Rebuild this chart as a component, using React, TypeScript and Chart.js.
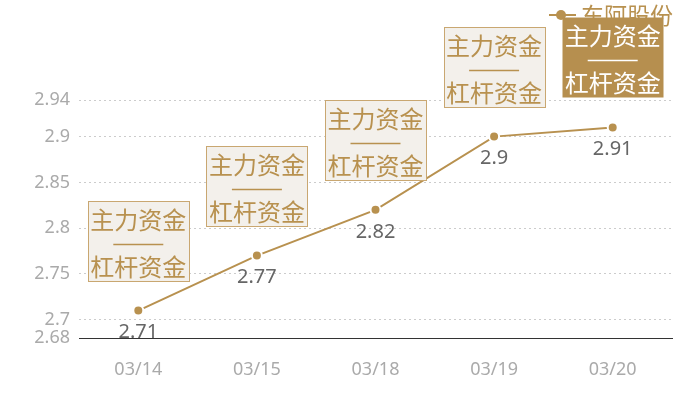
import { useEffect, useRef } from "react"
import { Chart, registerables } from "chart.js"

Chart.register(...registerables)

const seriesName = "东阿股份"
const dates = ["03/14", "03/15", "03/18", "03/19", "03/20"]
const prices = [2.71, 2.77, 2.82, 2.9, 2.91]
const yTicks = [2.68, 2.7, 2.75, 2.8, 2.85, 2.9, 2.94]
const boxTop = "主力资金"
const boxBottom = "杠杆资金"
const activeIndex = 4

const GOLD = "#b8914f"
const CJK = '"Noto Sans CJK SC", "Noto Sans", sans-serif'

const overlayPlugin = {
  id: "overlay",
  afterDatasetsDraw(chart: any) {
    const ctx = chart.ctx
    const meta = chart.getDatasetMeta(0)
    ctx.save()
    ctx.fillStyle = "#666"
    ctx.font = '20px "Noto Sans", sans-serif'
    ctx.textAlign = "center"
    ctx.textBaseline = "middle"
    meta.data.forEach((pt: any, i: number) => {
      ctx.fillText(String(prices[i]), pt.x, pt.y + 22)
    })
    ctx.restore()
  },
  afterDraw(chart: any) {
    const ctx = chart.ctx
    ctx.save()
    // legend
    const ly = 15
    ctx.strokeStyle = GOLD
    ctx.lineWidth = 2
    ctx.beginPath()
    ctx.moveTo(549, ly)
    ctx.lineTo(576, ly)
    ctx.stroke()
    ctx.fillStyle = GOLD
    ctx.beginPath()
    ctx.arc(561, ly, 5, 0, Math.PI * 2)
    ctx.fill()
    ctx.font = "23px " + CJK
    ctx.textAlign = "left"
    ctx.textBaseline = "middle"
    ctx.fillText(seriesName, 581, ly)

    // boxes
    const meta = chart.getDatasetMeta(0)
    const w = 101
    const h = 80
    meta.data.forEach((pt: any, i: number) => {
      const left = Math.round(pt.x - w / 2) + 0.5
      const top = Math.round(pt.y - 30 - h) + 0.5
      const active = i === activeIndex
      ctx.fillStyle = active ? "#b68f4f" : "#f3f0eb"
      ctx.fillRect(left, top, w, h)
      if (!active) {
        ctx.strokeStyle = "#c9a771"
        ctx.lineWidth = 1
        ctx.strokeRect(left, top, w, h)
      }
      const color = active ? "#ffffff" : GOLD
      ctx.fillStyle = color
      ctx.font = "24px " + CJK
      ctx.textAlign = "center"
      ctx.textBaseline = "middle"
      ctx.fillText(boxTop, pt.x, top + 18)
      ctx.fillText(boxBottom, pt.x, top + 65)
      ctx.strokeStyle = color
      ctx.lineWidth = 1.5
      ctx.beginPath()
      ctx.moveTo(pt.x - 25, top + 43)
      ctx.lineTo(pt.x + 25, top + 43)
      ctx.stroke()
    })
    ctx.restore()
  },
}

export default function App() {
  const chartRef = useRef<HTMLCanvasElement>(null)
  const chartInstance = useRef<Chart | null>(null)

  useEffect(() => {
    if (!chartRef.current) return
    if (chartInstance.current) {
      chartInstance.current.destroy()
    }
    const ctx = chartRef.current.getContext("2d")
    if (!ctx) return

    chartInstance.current = new Chart(ctx, {
      type: "line",
      data: {
        labels: dates,
        datasets: [
          {
            label: seriesName,
            data: prices,
            borderColor: GOLD,
            borderWidth: 2,
            backgroundColor: GOLD,
            pointBackgroundColor: GOLD,
            pointBorderColor: "#ffffff",
            pointBorderWidth: 2,
            pointRadius: 5,
            tension: 0,
          },
        ],
      },
      options: {
        animation: false,
        responsive: true,
        maintainAspectRatio: false,
        layout: { padding: { top: 100, right: 28, left: 0, bottom: 0 } },
        plugins: {
          legend: { display: false },
          tooltip: { enabled: false },
        },
        scales: {
          x: {
            offset: true,
            grid: { display: false, drawTicks: false },
            border: { display: true, color: "#333", width: 1 },
            ticks: {
              color: "#aaa",
              padding: 21,
              font: { size: 18, family: '"Noto Sans", sans-serif' },
            },
            afterFit: (scale: any) => {
              scale.height = 62
            },
          },
          y: {
            min: 2.68,
            max: 2.94,
            afterBuildTicks: (scale: any) => {
              scale.ticks = yTicks.map((v) => ({ value: v }))
            },
            afterFit: (scale: any) => {
              scale.width = 79
            },
            grid: {
              color: "#ccc",
              drawTicks: false,
            },
            border: { display: false, dash: [2, 3] },
            ticks: {
              color: "#aaa",
              padding: 9,
              font: { size: 18, family: '"Noto Sans", sans-serif' },
              callback: (v: any) => String(v),
            },
          },
        },
      },
      plugins: [overlayPlugin],
    })

    return () => {
      if (chartInstance.current) {
        chartInstance.current.destroy()
        chartInstance.current = null
      }
    }
  }, [])

  return (
    <div style={{ position: "fixed", left: 0, top: 0, width: 700, height: 400 }}>
      <canvas ref={chartRef}></canvas>
    </div>
  )
}
